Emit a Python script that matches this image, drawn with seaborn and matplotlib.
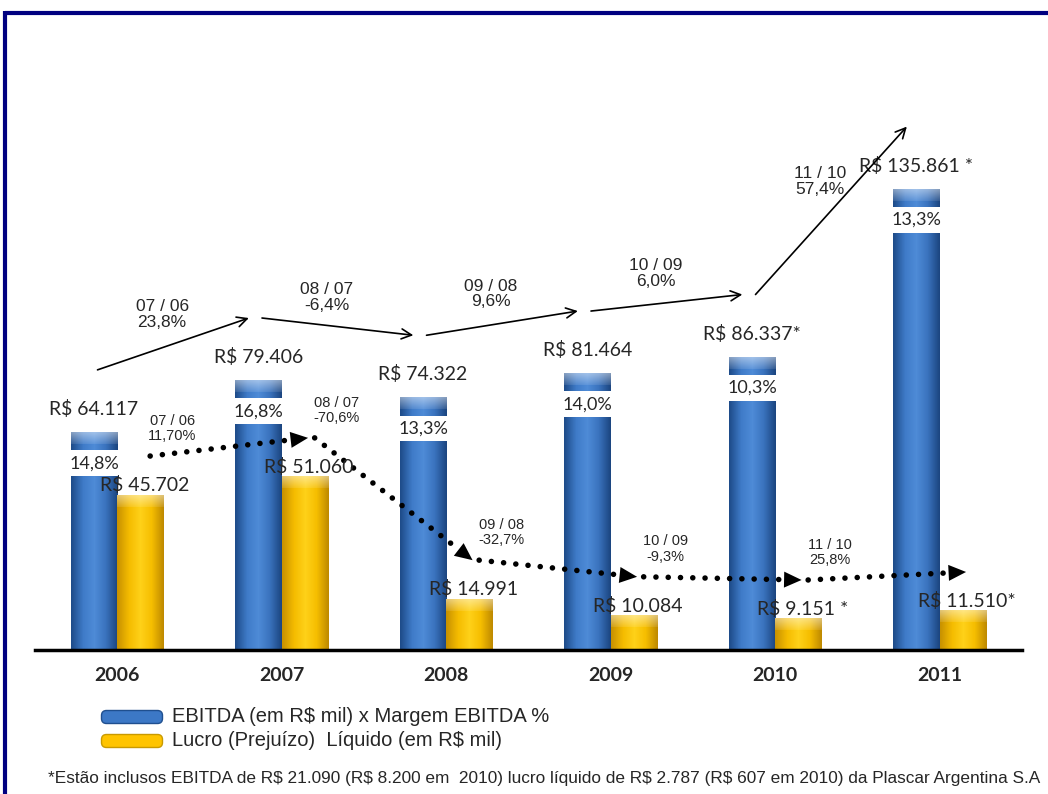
import numpy as np
import pandas as pd
import matplotlib
matplotlib.use('Agg')
import matplotlib.pyplot as plt
import seaborn as sns
from matplotlib.colors import LinearSegmentedColormap
from matplotlib.patches import FancyBboxPatch

# dados
anos = ['2006', '2007', '2008', '2009', '2010', '2011']
ebitda = [64117, 79406, 74322, 81464, 86337, 135861]
lucro = [45702, 51060, 14991, 10084, 9151, 11510]
margem = ['14,8%', '16,8%', '13,3%', '14,0%', '10,3%', '13,3%']
ebitda_ast = ['', '', '', '', '*', ' *']
lucro_ast = ['', '', '', '', ' *', '*']
var_ebitda = ['07 / 06\n23,8%', '08 / 07\n-6,4%', '09 / 08\n9,6%', '10 / 09\n6,0%', '11 / 10\n57,4%']
var_lucro = ['07 / 06\n11,70%', '08 / 07\n-70,6%', '09 / 08\n-32,7%', '10 / 09\n-9,3%', '11 / 10\n25,8%']
legenda = ['EBITDA (em R$ mil) x Margem EBITDA %', 'Lucro (Prejuízo)  Líquido (em R$ mil)']
nota = ('*Estão inclusos EBITDA de R$ 21.090 (R$ 8.200 em  2010) lucro líquido de '
        'R$ 2.787 (R$ 607 em 2010) da Plascar Argentina S.A')

def rs(v):
    return 'R$ ' + f'{v:,}'.replace(',', '.')

df = pd.DataFrame({
    'ano': anos * 2,
    'valor': ebitda + lucro,
    'serie': ['EBITDA'] * 6 + ['Lucro'] * 6,
})

sns.set_style('white')
plt.rcParams['font.family'] = ['Liberation Sans', 'DejaVu Sans']
plt.rcParams['text.parse_math'] = False

W, H = 1048, 794
fig = plt.figure(figsize=(W / 100, H / 100), dpi=100)

# camada de fundo em pixels: moldura, legenda, nota
bg = fig.add_axes([0, 0, 1, 1])
bg.set_xlim(0, W)
bg.set_ylim(H, 0)
bg.axis('off')
bg.plot([5, W], [12.5, 12.5], color='#000080', lw=3, solid_capstyle='butt')
bg.plot([5, 5], [11, H], color='#000080', lw=3, solid_capstyle='butt')

azul = '#3C78C6'
amarelo = '#FFC400'
for k, (cor, txt) in enumerate(zip([azul, amarelo], legenda)):
    yy = 717 + k * 24
    bg.add_patch(FancyBboxPatch((103, yy - 5), 58, 10, boxstyle='round,pad=1.5,rounding_size=5',
                                fc=cor, ec='#1F4F8F' if k == 0 else '#C99A00', lw=1))
    bg.text(172, yy, txt, fontsize=14.5, va='center', ha='left')
bg.text(48, 778, nota, fontsize=12.4, va='center', ha='left')

# grafico
ax = fig.add_axes([35 / W, 144 / H, 987 / W, 590 / H])
ax.patch.set_alpha(0)
sns.barplot(data=df, x='ano', y='valor', hue='serie', palette=[azul, amarelo],
            width=0.565, saturation=1, legend=False, ax=ax)
ymax = 174000
ax.set_xlim(-0.5, 5.5)
ax.set_ylim(0, ymax)
ax.set_xlabel('')
ax.set_ylabel('')
ax.set_yticks([])
for s in ['left', 'right', 'top']:
    ax.spines[s].set_visible(False)
ax.spines['bottom'].set_linewidth(2.5)
ax.spines['bottom'].set_color('black')
ax.tick_params(axis='x', length=0, pad=12)
for t in ax.get_xticklabels():
    t.set_fontfamily('Lato')
    t.set_fontweight('bold')
    t.set_fontsize(14)

px = ymax / 590.0  # valor por pixel
grad_azul = LinearSegmentedColormap.from_list('a', ['#1E4C8A', '#3F7BC8', '#4F8CD8', '#3A73BE', '#1C4681'])
grad_amar = LinearSegmentedColormap.from_list('b', ['#C89200', '#F5BC00', '#FFD21A', '#F6BE00', '#BF8A00'])
g = np.linspace(0, 1, 48)
for cont, cm in zip(ax.containers, [grad_azul, grad_amar]):
    base = cm(g)[:, :3]
    for p in cont:
        x0, w, h = p.get_x(), p.get_width(), p.get_height()
        p.set_alpha(0)
        n = max(int(round(h / px)), 2)
        img = np.repeat(base[None, :, :], n, axis=0)
        topo = min(12, n)
        # bisel claro no topo
        for r in range(topo):
            f = 0.38 * (1 - r / topo) + 0.08
            img[r] = img[r] + (1 - img[r]) * f
        ax.imshow(img, extent=[x0, x0 + w, 0, h], aspect='auto', zorder=2,
                  interpolation='nearest', origin='upper')
ax.set_xlim(-0.5, 5.5)
ax.set_ylim(0, ymax)

barras_e = ax.containers[0]
barras_l = ax.containers[1]
for i in range(6):
    pe = barras_e[i]
    xe = pe.get_x() + pe.get_width() / 2
    ax.annotate(rs(ebitda[i]) + ebitda_ast[i], (xe, ebitda[i]), xytext=(0, 17),
                textcoords='offset points', ha='center', va='center', fontsize=14, family='Lato')
    ax.annotate(margem[i], (xe, ebitda[i]), xytext=(0, -22), textcoords='offset points',
                ha='center', va='center', fontsize=13, family='Lato', zorder=5,
                bbox=dict(fc='white', ec='none', pad=3.5))
    pl = barras_l[i]
    xl = pl.get_x() + pl.get_width() / 2
    ax.annotate(rs(lucro[i]) + lucro_ast[i], (xl, lucro[i]), xytext=(3, 7),
                textcoords='offset points', ha='center', va='center', fontsize=14, family='Lato', zorder=6)

# setas de variacao do EBITDA
for i in range(5):
    a = (i - 0.12, ebitda[i] + 18500)
    b = (i + 1 - 0.2, ebitda[i + 1] + 18500)
    ax.annotate('', xy=b, xytext=a, arrowprops=dict(arrowstyle='->', lw=1.2, color='black',
                                                    mutation_scale=18, shrinkA=0, shrinkB=0))
    m = ((a[0] + b[0]) / 2, (a[1] + b[1]) / 2)
    ax.annotate(var_ebitda[i], m, xytext=(-8, 21), textcoords='offset points',
                ha='center', va='center', fontsize=12.5, linespacing=1.05)

# setas pontilhadas do lucro
for i in range(5):
    a = np.array([i + 0.2, lucro[i] + 11500])
    b = np.array([i + 1 + 0.16, lucro[i + 1] + 11500])
    c = a + (b - a) * 0.9
    ax.plot([a[0], c[0]], [a[1], c[1]], color='black', lw=4, linestyle=(0, (0.01, 2.2)),
            dash_capstyle='round', zorder=4)
    ax.annotate('', xy=tuple(b), xytext=tuple(a),
                arrowprops=dict(arrowstyle='-|>,head_length=0.7,head_width=0.32', lw=0,
                                color='black', mutation_scale=18, shrinkA=0, shrinkB=0), zorder=4)
    ax.annotate(var_lucro[i], tuple(a), xytext=(16, 20), textcoords='offset points',
                ha='center', va='center', fontsize=10.5, linespacing=1.1)

fig.savefig('out.png', dpi=100)
